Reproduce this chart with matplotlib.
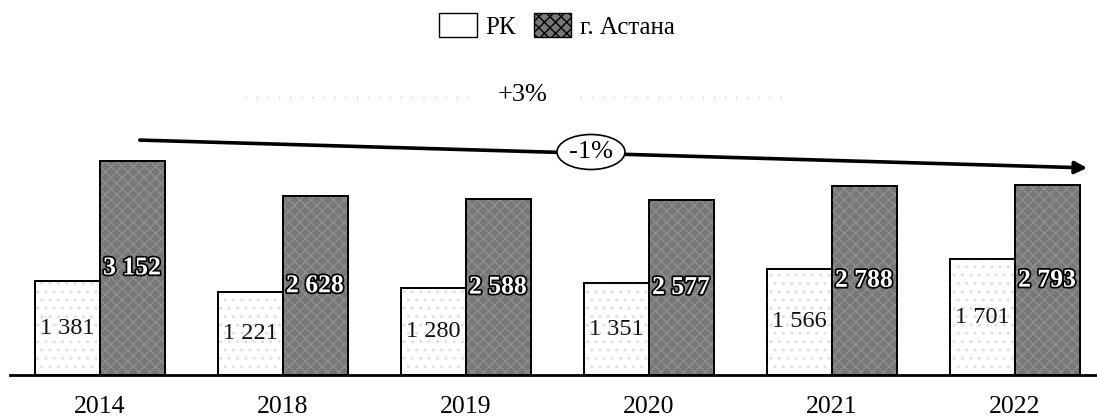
import matplotlib.pyplot as plt
import matplotlib.patheffects as pe
import numpy as np
from matplotlib.patches import Ellipse, FancyArrowPatch, Patch

# Data
years = ["2014", "2018", "2019", "2020", "2021", "2022"]
rk_values = [1381, 1221, 1280, 1351, 1566, 1701]
astana_values = [3152, 2628, 2588, 2577, 2788, 2793]
rk_name = "РК"
astana_name = "г. Астана"


def fmt(v):
    # thousands separated by a space
    return f"{v:,}".replace(",", " ")


plt.rcParams["font.family"] = ["Liberation Serif", "DejaVu Serif"]

fig = plt.figure(figsize=(10.97, 4.20), dpi=100)
ax = fig.add_axes([10 / 1097, 45 / 420, 1087 / 1097, 375 / 420])

x = np.arange(len(years))
w = 0.355
dark = "#777777"

rk_bars = ax.bar(x - w / 2, rk_values, w, color="white", edgecolor="black", linewidth=1.3)
ax.bar(x - w / 2, rk_values, w, fill=False, hatch="..", edgecolor="#e0e0e0", linewidth=0)
ast_bars = ax.bar(x + w / 2, astana_values, w, color=dark, edgecolor="black", linewidth=1.3)
ax.bar(x + w / 2, astana_values, w, fill=False, hatch="xxx", edgecolor="#8e8e8e", linewidth=0)
# redraw outlines on top of the hatching
ax.bar(x - w / 2, rk_values, w, fill=False, edgecolor="black", linewidth=1.3)
ax.bar(x + w / 2, astana_values, w, fill=False, edgecolor="black", linewidth=1.3)

for b, v in zip(rk_bars, rk_values):
    ax.text(b.get_x() + b.get_width() / 2, v / 2, fmt(v), ha="center", va="center",
            fontsize=17.5, color="#111111")

for b, v in zip(ast_bars, astana_values):
    t = ax.text(b.get_x() + b.get_width() / 2, v / 2, fmt(v), ha="center", va="center",
                fontsize=18.5, fontweight="bold", color="white")
    t.set_path_effects([pe.withStroke(linewidth=2.5, foreground="black")])

ax.set_xlim(-0.49, 5.45)
ax.set_ylim(0, 5520)
ax.set_xticks(x)
ax.set_xticklabels(years, fontsize=18.5)
ax.tick_params(axis="x", length=0, pad=15)
ax.set_yticks([])
for s in ["left", "right", "top"]:
    ax.spines[s].set_visible(False)
ax.spines["bottom"].set_linewidth(2)

# trend arrow with -1% ellipse
fig.patches.append(FancyArrowPatch(
    (137 / 1097, 1 - 140 / 420), (1090 / 1097, 1 - 168 / 420),
    transform=fig.transFigure, arrowstyle="-|>", mutation_scale=18,
    linewidth=2.6, color="black"))
fig.patches.append(Ellipse((591 / 1097, 1 - 152 / 420), 68 / 1097, 35 / 420,
                           transform=fig.transFigure, facecolor="white",
                           edgecolor="black", linewidth=1.2, zorder=5))
fig.text(591 / 1097, 1 - 152 / 420, "-1%", ha="center", va="center", fontsize=19, zorder=6)

# +3% label with faint dotted line
fig.text(523 / 1097, 1 - 95 / 420, "+3%", ha="center", va="center", fontsize=19)
for x0, x1 in [(245, 470), (580, 790)]:
    fig.lines.append(plt.Line2D([x0 / 1097, x1 / 1097], [1 - 97 / 420] * 2,
                                transform=fig.transFigure, color="#c8c8c8",
                                linestyle=(0, (1, 7)), linewidth=1))

handles = [Patch(facecolor="white", edgecolor="black", label=rk_name),
           Patch(facecolor=dark, edgecolor="black", hatch="xxx", label=astana_name)]
fig.legend(handles=handles, loc="center", bbox_to_anchor=(557 / 1097, 1 - 26 / 420),
           ncol=2, frameon=False, fontsize=18, handlelength=1.5, handleheight=1.1,
           handletextpad=0.35, columnspacing=0.7)

fig.savefig("out.png", dpi=100)
